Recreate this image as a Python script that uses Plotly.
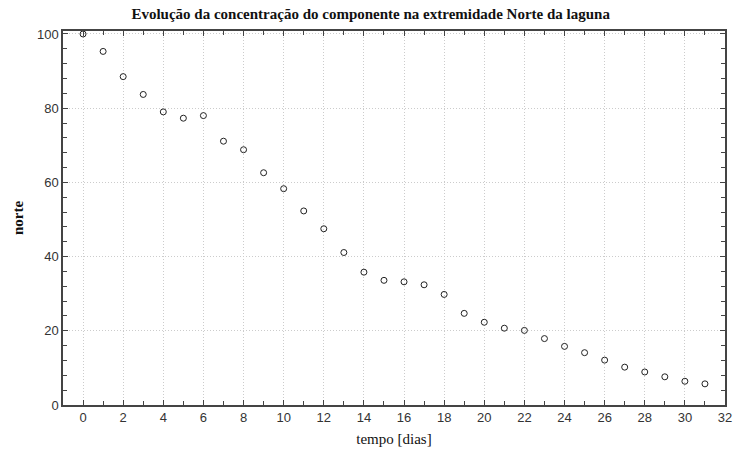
import plotly.graph_objects as go

# Daily concentration at the northern end of the lagoon
dias = list(range(32))
norte = [100.0, 95.3, 88.5, 83.7, 79.0, 77.3, 78.0, 71.1, 68.8, 62.6,
         58.3, 52.3, 47.5, 41.1, 35.8, 33.6, 33.2, 32.4, 29.8, 24.7,
         22.3, 20.7, 20.1, 17.9, 15.8, 14.1, 12.1, 10.2, 8.9, 7.6,
         6.4, 5.7]

x_ticks = list(range(0, 33, 2))
y_ticks = [0, 20, 40, 60, 80, 100]

SERIF = "Liberation Serif, Times New Roman, serif"

fig = go.Figure(
    go.Scatter(
        x=dias, y=norte, mode="markers",
        marker=dict(symbol="circle-open", size=6, color="#222",
                    line=dict(width=1, color="#222")),
        showlegend=False,
    )
)

axis_common = dict(
    showline=True, linecolor="#444", linewidth=1.5, mirror="ticks",
    ticks="inside", ticklen=5, tickcolor="#444", tickwidth=1,
    showgrid=True, gridcolor="#cccccc", griddash="1px,2px", gridwidth=1,
    zeroline=False, automargin=False,
    tickfont=dict(family="Liberation Sans, Arial", size=13, color="#333"),
)

fig.update_xaxes(
    **axis_common,
    range=[-1, 32], tickvals=x_ticks,
    minor=dict(dtick=1, tick0=0, ticks="inside", ticklen=4,
               tickcolor="#444", showgrid=False),
    title=dict(text="tempo [dias]", standoff=9,
               font=dict(family=SERIF, size=15, color="#111")),
)
fig.update_yaxes(
    **axis_common,
    range=[0, 100.8], tickvals=y_ticks,
    minor=dict(dtick=4, tick0=0, ticks="inside", ticklen=4,
               tickcolor="#444", showgrid=False),
    title=dict(text="<b>norte</b>", standoff=10,
               font=dict(family=SERIF, size=15, color="#111")),
)

fig.update_layout(
    width=734, height=450,
    margin=dict(l=63, r=9, t=31, b=45),
    paper_bgcolor="white", plot_bgcolor="white",
    title=dict(
        text="<b>Evolução da concentração do componente na extremidade Norte da laguna</b>",
        x=0.505, xref="container", xanchor="center",
        y=0.97, yref="container", yanchor="middle",
        font=dict(family=SERIF, size=15, color="#111"),
    ),
)

fig.write_html("out.html")
